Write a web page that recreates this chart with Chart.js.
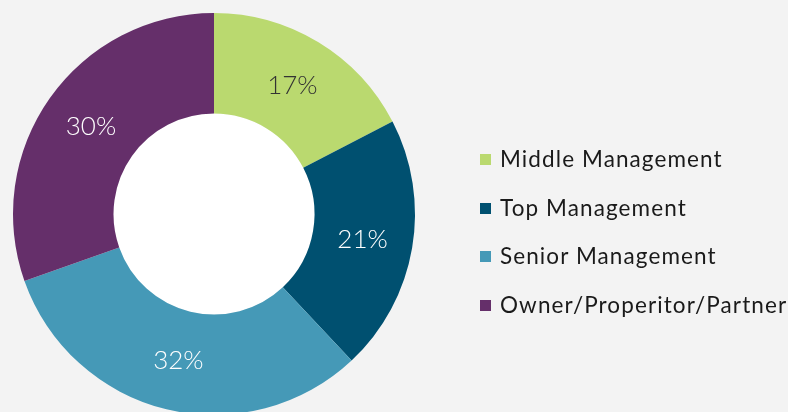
<!DOCTYPE html>
<html>
<head>
<meta charset="utf-8">
<script src="https://cdn.jsdelivr.net/npm/chart.js@4"></script>
<style>
  html, body { margin: 0; padding: 0; background: #f3f3f3; overflow: hidden; width: 788px; height: 412px; }
  #wrap { position: absolute; left: 0; top: 0; width: 788px; height: 430px; }
  #legend { position: absolute; left: 480px; top: 144px; font-family: Lato, sans-serif; font-size: 22.5px; letter-spacing: 1.1px; color: #1a1a1a; }
  #legend div { height: 48.5px; line-height: 30px; white-space: nowrap; }
  #legend span { display: inline-block; width: 11px; height: 11px; margin-right: 9px; vertical-align: 2px; }
</style>
</head>
<body>
<div id="wrap"><canvas id="myChart"></canvas></div>
<div id="legend"></div>
<script>
const categories = ['Middle Management', 'Top Management', 'Senior Management', 'Owner/Properitor/Partner'];
const shares = [17.4, 20.6, 31.6, 30.4];
const colors = ['#bad96f', '#005070', '#4599b7', '#652f6a'];
const labelColors = ['#333333', '#ffffff', '#ffffff', '#ffffff'];

// legend built from the same arrays
let legend = document.getElementById('legend');
categories.forEach(function (name, i) {
  let row = document.createElement('div');
  row.innerHTML = '<span style="background:' + colors[i] + '"></span>' + name;
  legend.appendChild(row);
});

// white hole + percent labels
const ringExtras = {
  id: 'ringExtras',
  beforeDatasetsDraw(chart) {
    let arc = chart.getDatasetMeta(0).data[0];
    let c = chart.ctx;
    c.save();
    c.fillStyle = '#ffffff';
    c.beginPath();
    c.arc(arc.x, arc.y, arc.innerRadius, 0, Math.PI * 2);
    c.fill();
    c.restore();
  },
  afterDatasetsDraw(chart) {
    let c = chart.ctx;
    c.save();
    c.font = '300 26px Lato';
    c.textAlign = 'center';
    c.textBaseline = 'middle';
    chart.getDatasetMeta(0).data.forEach(function (arc, i) {
      let p = arc.tooltipPosition();
      c.fillStyle = labelColors[i];
      c.fillText(Math.round(shares[i]) + '%', p.x, p.y);
    });
    c.restore();
  }
};

var ctx = document.getElementById('myChart').getContext('2d');
var myChart = new Chart(ctx, {
  type: 'doughnut',
  data: {
    labels: categories,
    datasets: [{
      data: shares,
      backgroundColor: colors,
      borderWidth: 0
    }]
  },
  options: {
    responsive: true,
    maintainAspectRatio: false,
    animation: false,
    cutout: '50%',
    layout: { padding: { left: 13, right: 373, top: 13, bottom: 15 } },
    plugins: {
      legend: { display: false },
      tooltip: { enabled: false }
    }
  },
  plugins: [ringExtras]
});
</script>
</body>
</html>
